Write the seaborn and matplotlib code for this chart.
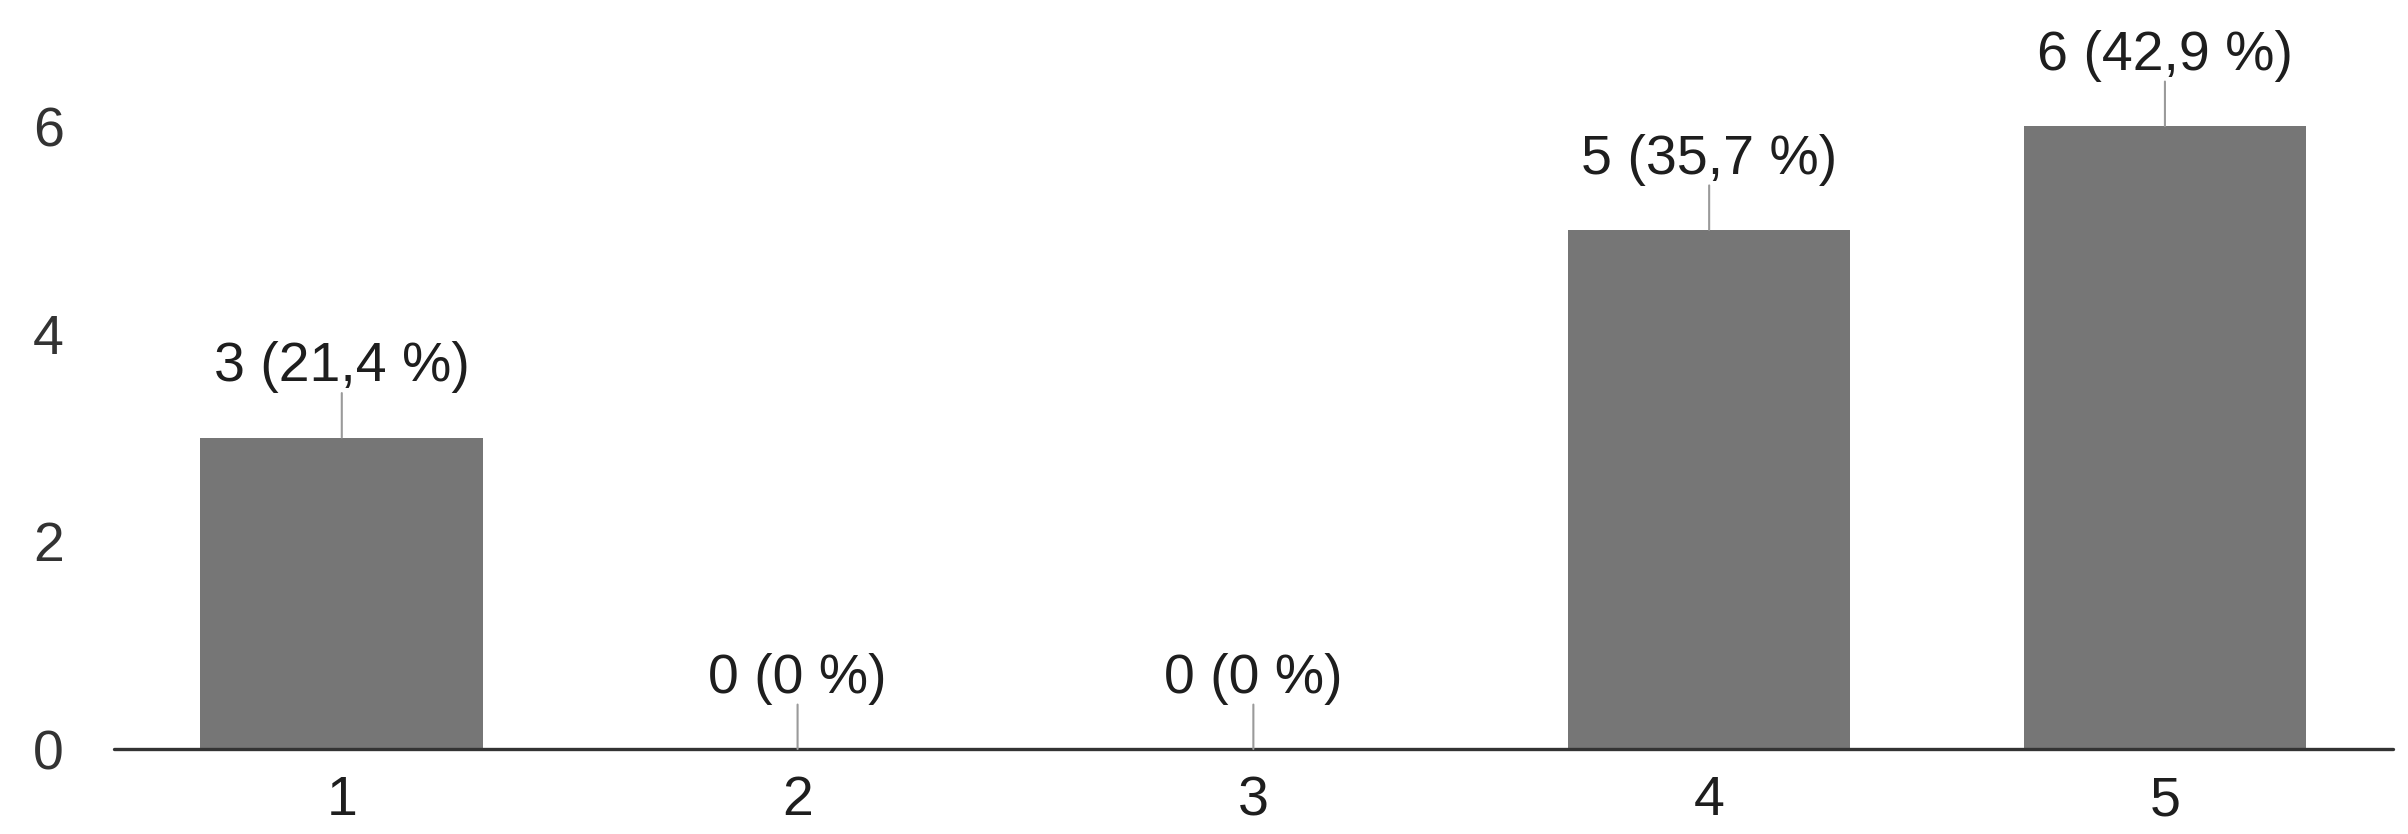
import matplotlib.pyplot as plt
import pandas as pd
import seaborn as sns

# chart data
categories = ["1", "2", "3", "4", "5"]
counts = [3, 0, 0, 5, 6]
percent_labels = ["21,4", "0", "0", "35,7", "42,9"]
y_ticks = [0, 2, 4, 6]

BAR_COLOR = "#767676"
TEXT_COLOR = "#1e1e1e"
LEADER_COLOR = "#9a9a9a"
FONT_SIZE = 40


def build_frame():

    return pd.DataFrame({"answer": categories, "count": counts})


def plot_bars(df):

    sns.set_style("white")
    plt.rcParams["font.family"] = ["Liberation Sans", "DejaVu Sans"]

    fig = plt.figure(figsize=(24.08, 8.34), dpi=100)
    ax = fig.add_axes([0.0473, 0.1019, 0.9464, 0.747])

    sns.barplot(data=df, x="answer", y="count", color=BAR_COLOR, width=0.62,
                saturation=1, edgecolor="none", ax=ax, zorder=2)

    ax.set_xlim(-0.5, len(categories) - 0.5)
    ax.set_ylim(0, 6)
    ax.set_yticks(y_ticks)
    ax.set_xlabel("")
    ax.set_ylabel("")

    for side in ["top", "right", "left", "bottom"]:
        ax.spines[side].set_visible(False)
    ax.axhline(0, color="#333333", linewidth=2.4, zorder=3, clip_on=False)

    ax.tick_params(axis="y", length=0, pad=36, labelsize=FONT_SIZE, labelcolor="#333333")
    ax.tick_params(axis="x", length=0, pad=19, labelsize=FONT_SIZE, labelcolor=TEXT_COLOR)

    # value labels with a short leader line above each bar
    for i, (value, pct) in enumerate(zip(counts, percent_labels)):

        ax.annotate("", xy=(i, value), xytext=(0, 32), textcoords="offset points",
                    arrowprops=dict(arrowstyle="-", color=LEADER_COLOR, lw=1.5,
                                    shrinkA=0, shrinkB=0),
                    annotation_clip=False)
        ax.annotate(f"{value} ({pct} %)", xy=(i, value), xytext=(0, 40.5),
                    textcoords="offset points", ha="center", va="baseline",
                    fontsize=FONT_SIZE, color=TEXT_COLOR, annotation_clip=False)

    fig.savefig("out.png", dpi=100)


plot_bars(build_frame())
